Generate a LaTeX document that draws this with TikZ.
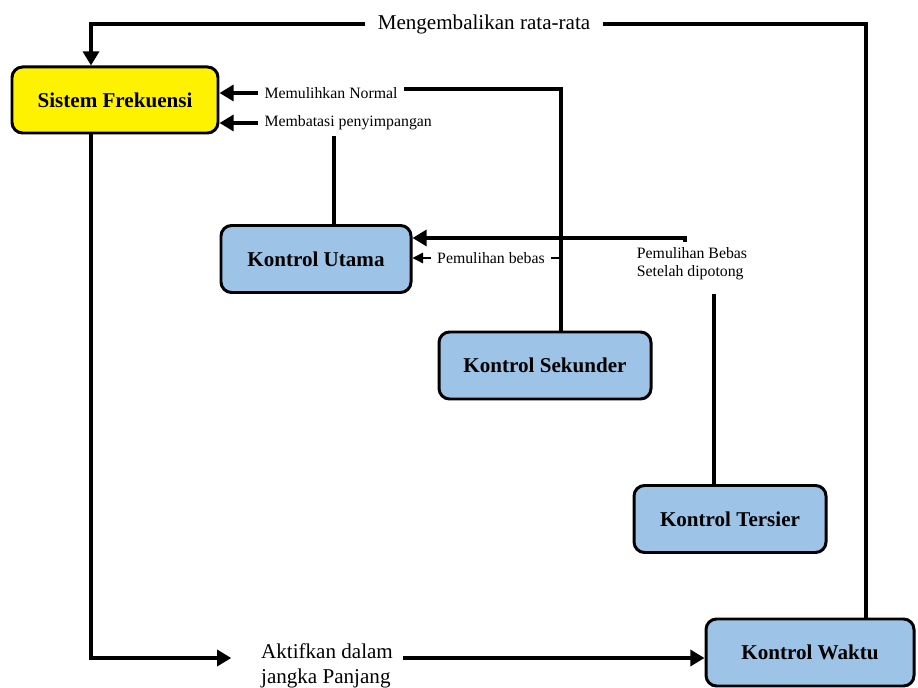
\documentclass[tikz,border=0pt]{standalone}
\usepackage{fontspec}
\setmainfont{Liberation Serif}
\usepackage{tikz}
\usetikzlibrary{positioning}
\usetikzlibrary{arrows.meta}
\usetikzlibrary{calc}
\definecolor{boxblue}{HTML}{9DC3E6}
\def\px{0.02cm}
\tikzstyle{ctrl}=[rectangle,rounded corners=6pt,draw=black,line width=1.7pt,fill=boxblue,minimum height=67*\px,font=\fontsize{12}{14}\selectfont\bfseries]
\tikzstyle{bigline} = [draw,line width=2.2pt]
\tikzstyle{bigarrow} = [bigline,-{Triangle[length=8pt,width=9pt]}]
\tikzstyle{thinline} = [draw,line width=0.8pt]
\tikzstyle{thinarrow} = [thinline,-{Triangle[length=6pt,width=6pt]}]
\tikzstyle{lbl} = [font=\fontsize{9}{10}\selectfont,inner sep=3.5pt,align=left]
\tikzstyle{biglbl} = [font=\fontsize{12}{14}\selectfont,inner sep=2pt,align=left]

\begin{document}
\begin{tikzpicture}[x=\px,y=-\px]

 \useasboundingbox (0,0) rectangle (918,688);

 %Sistem
 \node[ctrl,fill=yellow,minimum width=206*\px,minimum height=66*\px] (sistem) at (115,100) {Sistem Frekuensi};

 %Kontrol
  \foreach \x/\y/\name/\w/\label in {316/259/utama/190/Kontrol Utama, 545/365.5/sekunder/212/Kontrol Sekunder, 730/519/tersier/192/Kontrol Tersier, 810/652.5/waktu/208/Kontrol Waktu}
          \node[ctrl,minimum width=\w*\px] (\name) at (\x,\y) {\label};

 %Label
 \node[biglbl,inner sep=7pt] (rata) at (484,24) {Mengembalikan rata-rata};
 \node[lbl,anchor=west] (normal) at (258,93) {Memulihkan Normal};
 \node[lbl,anchor=west] (batasi) at (258,123) {Membatasi penyimpangan};
 \node[lbl] (bebas) at (491,258) {Pemulihan bebas};
 \node[lbl] (setelah) at (692,264) {Pemulihan Bebas\\Setelah dipotong};
 \node[biglbl] (aktif) at (327,666) {Aktifkan dalam\\jangka Panjang};

 %kembali
 \draw[bigline] ([xshift=56*\px]waktu.north) |- (rata.east);
 \draw[bigarrow] (rata.west) -| ([xshift=-24*\px]sistem.north);

 %normal
 \coordinate (sk) at ([xshift=16*\px]sekunder.north);
 \draw[bigarrow] (normal.west) -- (normal.west -| sistem.east);
 \draw[bigline] ([yshift=4*\px]normal.east) -| (sk);

 %batasi
 \draw[bigarrow] (batasi.west) -- (batasi.west -| sistem.east);
 \draw[bigline] ([xshift=18*\px]utama.north) -- ++(0,-88);

 %bebas
 \draw[bigarrow] ([xshift=-7*\px]setelah.north) |- ([yshift=21*\px]utama.east);
 \draw[thinarrow] (bebas.west) -- (bebas.west -| utama.east);
 \draw[thinline] (bebas.east) -- (bebas.east -| sk);
 \draw[bigline] ([xshift=-16*\px]tersier.north) -- ++(0,-190);

 %aktif
 \coordinate (li) at ([yshift=8*\px]aktif.west);
 \coordinate (lo) at ([yshift=8*\px]aktif.east);
 \draw[bigarrow] ([xshift=-24*\px]sistem.south) |- ([xshift=-26*\px]li);
 \draw[bigarrow] ([xshift=6*\px]lo) -- (lo -| waktu.west);

\end{tikzpicture}
\end{document}
